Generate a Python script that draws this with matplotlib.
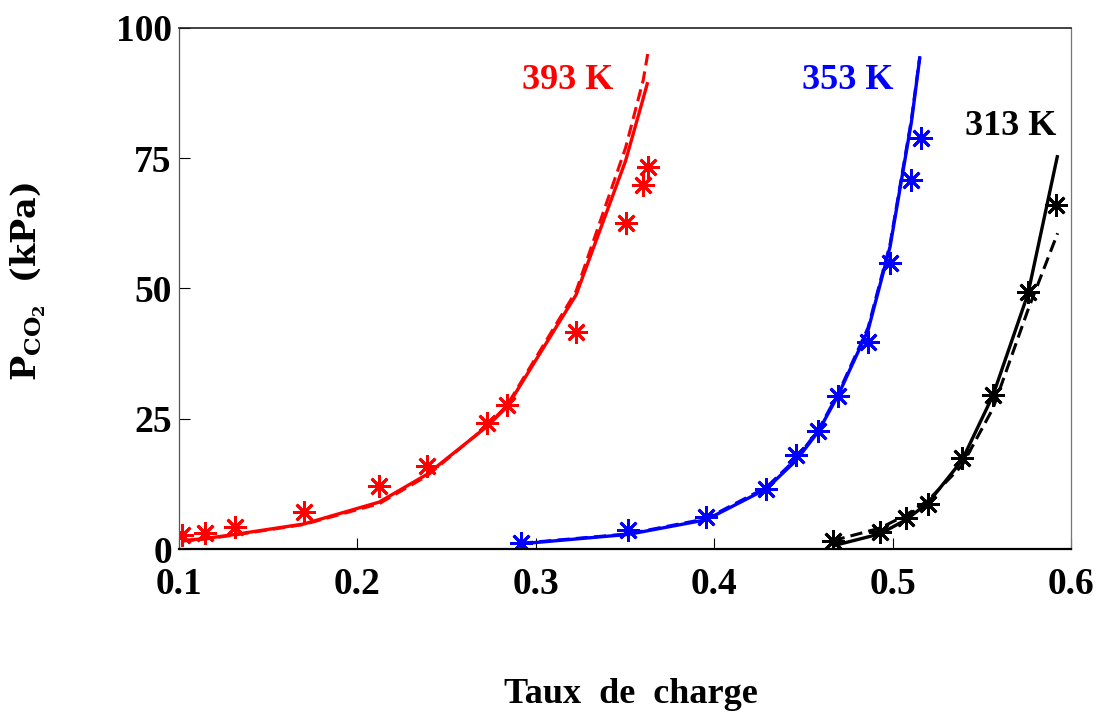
import matplotlib
matplotlib.use("Agg")
import matplotlib.pyplot as plt

# ---- data ----
x393 = [0.1018, 0.1147, 0.1315, 0.170, 0.2123, 0.239, 0.2727, 0.284, 0.3227, 0.3504, 0.3603, 0.3628]
p393 = [2.7, 3.1, 4.2, 7.1, 12.1, 15.9, 24.2, 27.6, 41.7, 62.6, 69.9, 73.4]
x393_m = [0.1018, 0.1147, 0.1315, 0.170, 0.2123, 0.239, 0.2727, 0.284, 0.3227, 0.3504, 0.3603, 0.3628]
p393_m1 = [1.6, 2.0, 2.8, 4.8, 9.0, 14.3, 23.5, 27.3, 48.8, 74.5, 86.5, 89.6]
p393_m2 = [1.5, 1.9, 2.7, 4.7, 8.7, 14.0, 23.6, 27.6, 49.5, 77.0, 90.0, 95.0]

x353 = [0.2918, 0.3518, 0.3955, 0.4291, 0.446, 0.4583, 0.4695, 0.4863, 0.4986, 0.5106, 0.5157]
p353 = [1.2, 3.6, 6.1, 11.5, 18.0, 22.6, 29.4, 39.7, 54.9, 70.8, 78.8]
x353_m = [0.2918, 0.3518, 0.3955, 0.4291, 0.446, 0.4583, 0.4695, 0.4863, 0.4986, 0.5106, 0.5153]
p353_m1 = [1.0, 2.8, 5.6, 11.5, 17.0, 22.5, 29.5, 42.0, 58.0, 82.0, 94.4]
p353_m2 = [1.1, 2.9, 5.8, 11.8, 17.3, 22.8, 29.8, 42.5, 58.5, 82.5, 94.6]

x313 = [0.4665, 0.4929, 0.5075, 0.5198, 0.5389, 0.5563, 0.5759, 0.5916]
p313 = [1.5, 3.3, 6.0, 8.6, 17.5, 29.6, 49.3, 66.0]
x313_m = [0.4665, 0.4929, 0.5075, 0.5198, 0.5389, 0.5563, 0.5759, 0.5925]
p313_m1 = [0.6, 2.9, 5.6, 8.8, 17.0, 29.5, 49.0, 75.6]
p313_m2 = [1.6, 4.0, 6.5, 9.3, 16.0, 27.0, 45.9, 60.6]

labels = ["393 K", "353 K", "313 K"]
label_pos = [(0.3177, 90.0), (0.475, 90.0), (0.5663, 81.0)]
colors = ["#ff0000", "#0000ff", "#000000"]

xticks = [0.1, 0.2, 0.3, 0.4, 0.5, 0.6]
xticklabels = ["0.1", "0.2", "0.3", "0.4", "0.5", "0.6"]
yticks = [0, 25, 50, 75, 100]
yticklabels = ["0", "25", "50", "75", "100"]

font = ["Liberation Serif", "DejaVu Serif"]

fig = plt.figure(figsize=(10.97, 7.17), dpi=100)
ax = fig.add_axes([0.1629, 0.2343, 0.8134, 0.7267])

series = [
    (x393, p393, x393_m, p393_m1, p393_m2),
    (x353, p353, x353_m, p353_m1, p353_m2),
    (x313, p313, x313_m, p313_m1, p313_m2),
]
asterisk = (8, 2, 0)
for (xe, pe, xm, pm1, pm2), c in zip(series, colors):
    ax.plot(xm, pm1, '-', color=c, lw=2.4, solid_capstyle='butt')
    ax.plot(xm, pm2, '--', color=c, lw=2.2, dashes=(4, 2))
    ax.plot(xe, pe, linestyle='none', marker=asterisk, markersize=16,
            markeredgewidth=2.0, color=c)

for lab, (lx, ly), c in zip(labels, label_pos, colors):
    ax.text(lx, ly, lab, color=c, ha='center', va='center',
            family=font, fontweight='bold', fontsize=26)

ax.set_xlim(0.1, 0.6)
ax.set_ylim(0, 100)
ax.set_xticks(xticks)
ax.set_xticklabels(xticklabels)
ax.set_yticks(yticks)
ax.set_yticklabels(yticklabels)
ax.tick_params(direction='in', length=8, width=0.8, top=False, right=False,
               labelsize=27)
ax.tick_params(axis='x', pad=13)
ax.tick_params(axis='y', pad=5)
for t in ax.get_xticklabels() + ax.get_yticklabels():
    t.set_family(font)
    t.set_fontweight('bold')

ax.spines['left'].set_color('#555555')
ax.spines['right'].set_color('#777777')
ax.spines['top'].set_color('#222222')
ax.spines['bottom'].set_color('#000000')
ax.spines['bottom'].set_linewidth(1.6)
ax.spines['top'].set_linewidth(1.2)
ax.spines['left'].set_linewidth(0.9)
ax.spines['right'].set_linewidth(0.9)

fig.text(0.575, 0.032, "Taux  de  charge", ha='center', va='center',
         family=font, fontweight='bold', fontsize=26)
fig.text(0.026, 0.607,
         r"$\mathbf{P}_{\mathbf{CO}_{\mathbf{2}}}\ \ \mathbf{(kPa)}$",
         rotation=90, ha='center', va='center', fontsize=24,
         math_fontfamily='dejavuserif')

fig.savefig("out.png", dpi=100)
